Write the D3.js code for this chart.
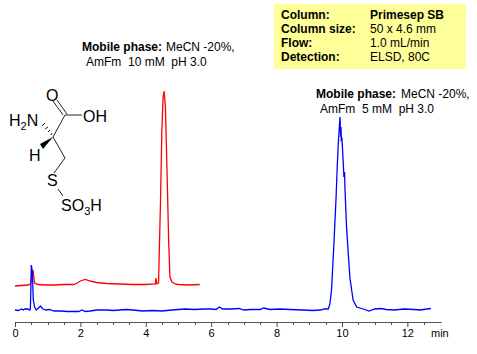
<!DOCTYPE html>
<html>
<head>
<meta charset="utf-8">
<script src="https://cdn.jsdelivr.net/npm/d3@7"></script>
<style>
  html, body { margin: 0; padding: 0; background: #fff; }
  svg { display: block; }
  text { font-family: "Liberation Sans", Arial, sans-serif; fill: #000; }
</style>
</head>
<body>
<svg width="477" height="354"></svg>
<script>
// minutes / signal
const redTimes = [0, 0.2, 0.4, 0.47, 0.52, 0.55, 0.6, 0.7, 0.9, 1.2, 1.5, 1.8, 1.9, 2.0, 2.15, 2.3, 2.5, 2.8, 3.2, 3.6, 4.0, 4.29, 4.31, 4.34, 4.39, 4.42, 4.45, 4.49, 4.53, 4.56, 4.6, 4.65, 4.7, 4.74, 4.8, 4.9, 5.0, 5.3, 5.65];
const redSignal = [36, 36.5, 37, 38, 48, 52, 39, 37.5, 37, 37, 37.5, 37.5, 39, 41, 42.5, 41, 39.5, 38.5, 38, 37.5, 37.5, 38, 44, 38, 39, 80, 120, 190, 225, 231, 215, 150, 80, 45, 40, 38, 37.5, 37, 37.5];

const blueTimes = [0, 0.1, 0.2, 0.25, 0.3, 0.4, 0.45, 0.47, 0.49, 0.5, 0.53, 0.56, 0.6, 0.65, 0.72, 0.78, 0.85, 0.95, 1.05, 1.2, 1.4, 1.6, 1.8, 1.95, 2.05, 2.15, 2.3, 2.5, 2.8, 3.0, 3.4, 3.6, 3.9, 4.2, 4.5, 4.8, 5.2, 5.5, 5.8, 6.0, 6.15, 6.25, 6.35, 6.6, 6.85, 7.0, 7.2, 7.5, 7.6, 7.8, 8.1, 8.4, 8.8, 9.1, 9.35, 9.45, 9.58, 9.63, 9.68, 9.755, 9.82, 9.855, 9.89, 9.91, 9.94, 9.96, 9.97, 9.98, 10.0, 10.03, 10.06, 10.08, 10.09, 10.14, 10.24, 10.34, 10.45, 10.65, 10.83, 11.0, 11.2, 11.35, 11.6, 11.9, 12.2, 12.4, 12.6, 12.72];
const blueSignal = [12, 11.5, 13, 12, 13, 13, 12, 13, 40, 57, 50, 22, 15, 12, 14, 16, 13, 12, 12.5, 11, 11, 10.5, 10.5, 10.5, 12, 10.5, 11, 12, 12, 11.5, 12.5, 12, 11, 11.5, 11, 12, 13, 12.5, 13, 13, 12.5, 15, 13, 13, 13.5, 12, 12.5, 12.5, 14, 12.5, 13, 12.5, 12, 11.5, 12, 13, 13, 18, 32, 79, 125, 155, 180, 190, 205, 185, 195, 182, 183, 165, 145, 150, 135, 95, 45, 22, 15, 13, 11, 13, 13.5, 12.5, 12, 13, 12.5, 12, 13, 13.5];

const majorTicks = [0, 2, 4, 6, 8, 10, 12];
const minorTicks = d3.range(0.5, 13, 0.5).filter(t => !majorTicks.includes(t));

const infoLabels = ['Column:', 'Column size:', 'Flow:', 'Detection:'];
const infoValues = ['Primesep SB', '50 x 4.6 mm', '1.0 mL/min', 'ELSD, 80C'];

const svg = d3.select('svg');

const x = d3.scaleLinear().domain([0, 13.05]).range([15, 441.7]);
const y = d3.scaleLinear().domain([0, 322]).range([322, 0]);
const line = d3.line().x(d => x(d[0])).y(d => y(d[1]));

// ---- Eixo
const axisG = svg.append('g').attr('transform', 'translate(0, 322)');
axisG.call(d3.axisBottom(x).tickValues(majorTicks).tickFormat(d3.format('d')).tickSize(5).tickPadding(2))
  .call(g => g.select('.domain').attr('stroke', '#555').attr('d', 'M15.5,0.5H441.7'))
  .call(g => g.selectAll('.tick line').attr('stroke', '#444'))
  .call(g => g.selectAll('.tick text').style('font-size', '11px').style('font-family', '"Liberation Sans", Arial, sans-serif').attr('fill', '#000'));

axisG.selectAll('.minor')
  .data(minorTicks)
  .enter()
  .append('line')
  .attr('class', 'minor')
  .attr('x1', d => Math.round(x(d)) + 0.5)
  .attr('x2', d => Math.round(x(d)) + 0.5)
  .attr('y1', 0)
  .attr('y2', 3)
  .attr('stroke', '#555');

svg.append('text').attr('x', 431).attr('y', 337).style('font-size', '11px').text('min');

// ---- Traces
svg.append('path')
  .datum(redTimes.map((t, i) => [t, redSignal[i]]))
  .attr('d', line).attr('fill', 'none').attr('stroke', '#f00').attr('stroke-width', 1.3);

svg.append('path')
  .datum(blueTimes.map((t, i) => [t, blueSignal[i]]))
  .attr('d', line).attr('fill', 'none').attr('stroke', '#00f').attr('stroke-width', 1.3);

// ---- Caixa de condições
svg.append('rect').attr('x', 274).attr('y', 4).attr('width', 192).attr('height', 65).attr('fill', '#ffff99');
const rowY = [19, 33, 47, 61];
infoLabels.forEach((t, i) => {
  svg.append('text').attr('x', 281).attr('y', rowY[i]).style('font-size', '12px').style('font-weight', 'bold').text(t);
  svg.append('text').attr('x', 370).attr('y', rowY[i]).style('font-size', '12px')
    .style('font-weight', i === 0 ? 'bold' : 'normal').text(infoValues[i]);
});

// ---- Fase móvel
function phaseNote(xBold, xValue, xSecond, yTop, second) {
  svg.append('text').attr('x', xBold).attr('y', yTop).style('font-size', '12px').style('font-weight', 'bold').text('Mobile phase:');
  svg.append('text').attr('x', xValue).attr('y', yTop).style('font-size', '12px').text('MeCN -20%,');
  svg.append('text').attr('x', xSecond).attr('y', yTop + 15).attr('xml:space', 'preserve').style('white-space', 'pre').style('font-size', '12px').text(second);
}
phaseNote(82, 166, 86, 51, 'AmFm  10 mM  pH 3.0');
phaseNote(316, 401, 320, 98, 'AmFm  5 mM  pH 3.0');

// ---- Molécula
const mol = svg.append('g').attr('fill', 'none').attr('stroke', '#222').attr('stroke-width', 1);
mol.append('path').attr('d', 'M63,115L53,101M67,114L57,100M65,115H82M65,115L53,137L65,158L54,173M58,189L63,196');
mol.append('path').attr('d', 'M51,135L52,133M48,132L50,130M45,129L48,127M42,126L45,123');
svg.append('path').attr('d', 'M53,137L40,144L43,149Z').attr('fill', '#000');

function atom(px, py, label, sub, rest) {
  const t = svg.append('text').attr('x', px).attr('y', py).style('font-size', '16px').text(label);
  if (sub) t.append('tspan').attr('dy', 4).style('font-size', '11px').text(sub);
  if (rest) t.append('tspan').attr('dy', sub ? -4 : 0).text(rest);
}
atom(46, 101, 'O');
atom(83, 122, 'OH');
atom(9, 126, 'H', '2', 'N');
atom(29, 161, 'H');
atom(47, 186, 'S');
atom(61, 211, 'SO', '3', 'H');
</script>
</body>
</html>
